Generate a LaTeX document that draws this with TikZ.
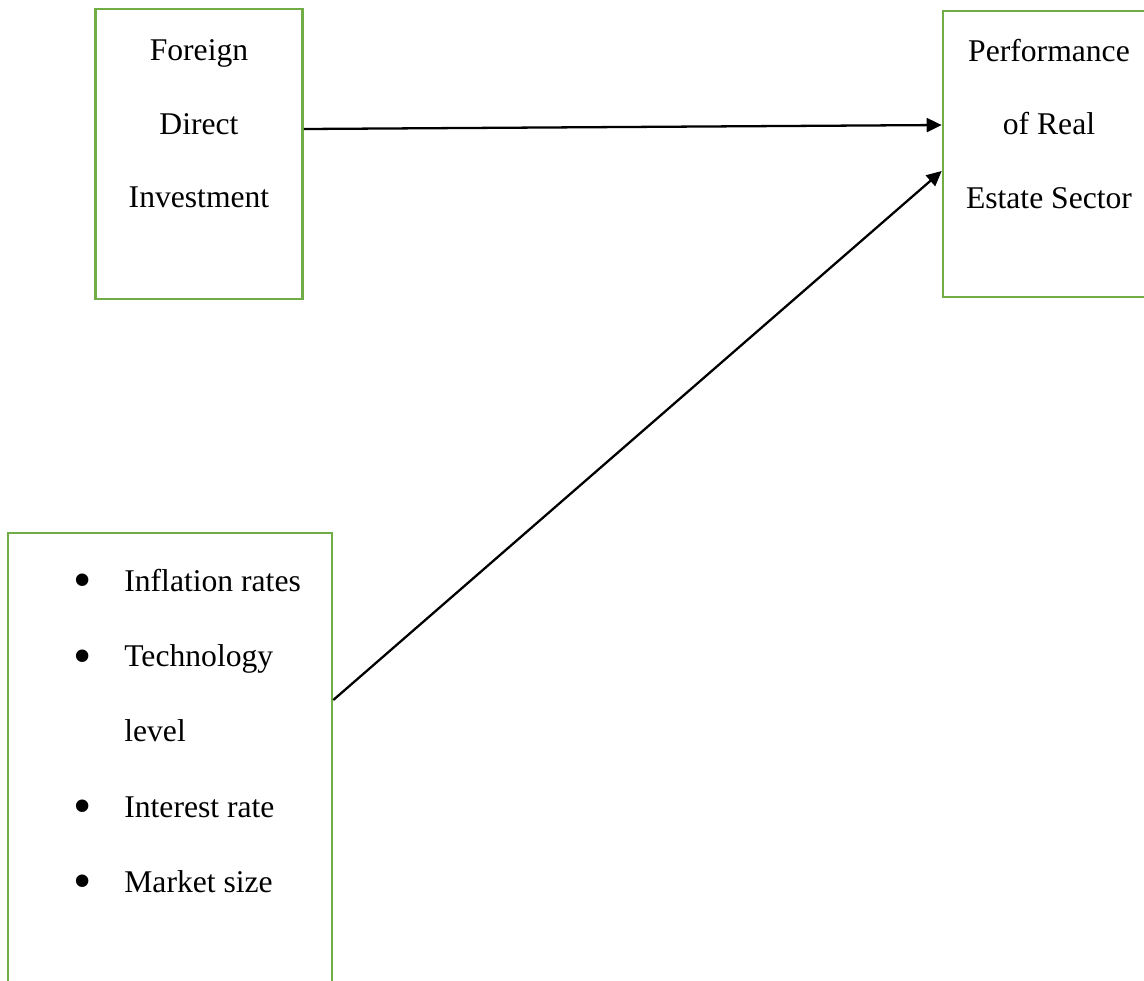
\documentclass[tikz,border=0pt]{standalone}
\usepackage{fontspec}
\setmainfont{Liberation Serif}
\usepackage{graphicx}
\usepackage{xcolor}
\usepackage{tikz}
\usetikzlibrary{positioning, arrows.meta}
\definecolor{BoxGreen}{HTML}{70AD47}
\newcommand{\bul}{\llap{\raisebox{-0.2em}{\scalebox{1.65}{\textbullet}}\hspace{0.66cm}}}

\begin{document}
\begin{tikzpicture}[x=0.02cm, y=-0.02cm,
    box/.style={draw=BoxGreen, line width=1.5pt, inner sep=0pt},
    words/.style={align=center, inner sep=0pt, font=\fontsize{18pt}{41.8pt}\selectfont},
    link/.style={line width=1.3pt, -{Triangle[length=0.3cm, width=0.28cm]}}]
      \clip (0,0) rectangle (1144,981);
      % boxes
      \node[box, minimum width=4.14cm, minimum height=5.8cm]  (fdi)  at (199,154) {};
      \node[box, minimum width=4.24cm, minimum height=5.72cm] (perf) at (1049,154) {};
      \node[box, minimum width=6.48cm, minimum height=9.6cm]  (ctrl) at (170,773) {};
      % texts
      \node[words] (fditext)  at (199,124)  {Foreign\\Direct\\Investment};
      \node[words] (perftext) at (1049,124) {Performance\\of Real\\Estate Sector};
      \node[words, align=left, anchor=west, font=\fontsize{18pt}{42.8pt}\selectfont]
        (ctrltext) at (124,734)
        {\bul Inflation rates\\\bul Technology\\level\\\bul Interest rate\\\bul Market size};
      % arrows
      \draw[link] ([yshift=0.5cm]fdi.east) -- ([yshift=0.58cm]perf.west);
      \draw[link] ([yshift=1.46cm]ctrl.east) -- ([yshift=-0.34cm]perf.west);
    \end{tikzpicture}
\end{document}
